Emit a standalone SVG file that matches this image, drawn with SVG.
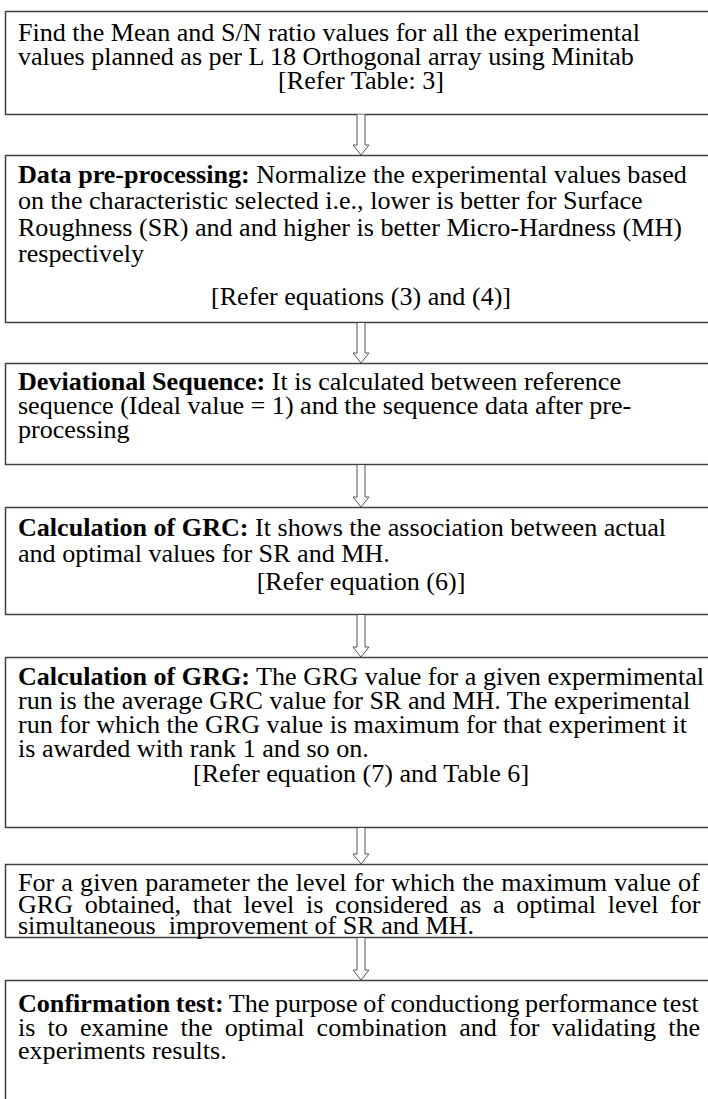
<svg xmlns="http://www.w3.org/2000/svg" width="708" height="1099" viewBox="0 0 708 1099">
<style>
.box{fill:#fff;stroke:#404040;stroke-width:1.5}
.arrow{fill:#fff;stroke:#555;stroke-width:1}
text{font-family:"Liberation Serif","Times New Roman",serif;font-size:25px;fill:#000}
.c{text-anchor:middle}
.b{font-weight:bold}
</style>
<rect width="708" height="1099" fill="#fff"/>
<g id="n1">
<rect class="box" x="5.5" y="11.5" width="711" height="103"/>
<g transform="scale(1.045,1)">
<text x="17.2" y="41">Find the Mean and S/N ratio values for all the experimental</text>
<text x="17.2" y="65">values planned as per L 18 Orthogonal array using Minitab</text>
<text class="c" x="345.5" y="89">[Refer Table: 3]</text>
</g>
</g>
<g id="n2">
<rect class="box" x="5.5" y="155.5" width="711" height="167"/>
<g transform="scale(1.045,1)">
<text x="17.2" y="183"><tspan class="b">Data pre-processing:</tspan> Normalize the experimental values based</text>
<text x="17.2" y="209">on the characteristic selected i.e., lower is better for Surface</text>
<text x="17.2" y="236">Roughness (SR) and and higher is better Micro-Hardness (MH)</text>
<text x="17.2" y="262">respectively</text>
<text class="c" x="345.5" y="305">[Refer equations (3) and (4)]</text>
</g>
</g>
<g id="n3">
<rect class="box" x="5.5" y="363.5" width="711" height="101"/>
<g transform="scale(1.045,1)">
<text x="17.2" y="390"><tspan class="b">Deviational Sequence:</tspan> It is calculated between reference</text>
<text x="17.2" y="414">sequence (Ideal value = 1) and the sequence data after pre-</text>
<text x="17.2" y="438">processing</text>
</g>
</g>
<g id="n4">
<rect class="box" x="5.5" y="507.5" width="711" height="107"/>
<g transform="scale(1.045,1)">
<text x="17.2" y="536"><tspan class="b">Calculation of GRC:</tspan> It shows the association between actual</text>
<text x="17.2" y="562">and optimal values for SR and MH.</text>
<text class="c" x="345.5" y="590">[Refer equation (6)]</text>
</g>
</g>
<g id="n5">
<rect class="box" x="5.5" y="657.5" width="711" height="170"/>
<g transform="scale(1.045,1)">
<text x="17.2" y="685"><tspan class="b">Calculation of GRG:</tspan> The GRG value for a given expermimental</text>
<text x="17.2" y="709">run is the average GRC value for SR and MH. The experimental</text>
<text x="17.2" y="733">run for which the GRG value is maximum for that experiment it</text>
<text x="17.2" y="757">is awarded with rank 1 and so on.</text>
<text class="c" x="345.5" y="782">[Refer equation (7) and Table 6]</text>
</g>
</g>
<g id="n6">
<rect class="box" x="5.5" y="864.5" width="711" height="73"/>
<g transform="scale(1.045,1)">
<text x="17.2" y="891" word-spacing="0.6">For a given parameter the level for which the maximum value of</text>
<text x="17.2" y="913" word-spacing="4.9">GRG obtained, that level is considered as a optimal level for</text>
<text x="17.2" y="934" xml:space="preserve">simultaneous  improvement of SR and MH.</text>
</g>
</g>
<g id="n7">
<rect class="box" x="5.5" y="980.5" width="711" height="130"/>
<g transform="scale(1.045,1)">
<text x="17.2" y="1012" word-spacing="-0.9"><tspan class="b">Confirmation test:</tspan> The purpose of conductiong performance test</text>
<text x="17.2" y="1036" word-spacing="5.4">is to examine the optimal combination and for validating the</text>
<text x="17.2" y="1059">experiments results.</text>
</g>
</g>
<g id="connectors">
<path class="arrow" d="M357,114.5 V145 H353 L361,155 L369,145 H365 V114.5"/>
<path class="arrow" d="M357,323 V353 H353 L361,363 L369,353 H365 V323"/>
<path class="arrow" d="M357,465 V497 H353 L361,507 L369,497 H365 V465"/>
<path class="arrow" d="M357,615 V647 H353 L361,657 L369,647 H365 V615"/>
<path class="arrow" d="M357,828 V854 H353 L361,864 L369,854 H365 V828"/>
<path class="arrow" d="M357,938 V970 H353 L361,980 L369,970 H365 V938"/>
</g>
</svg>
